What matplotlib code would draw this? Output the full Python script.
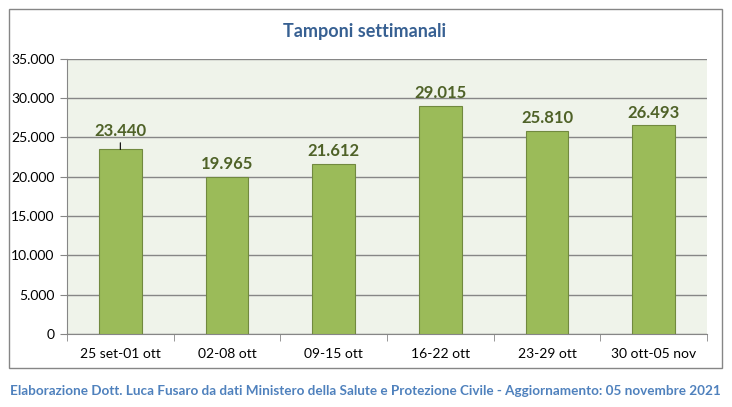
import matplotlib.pyplot as plt
from matplotlib.patches import Rectangle
from matplotlib.ticker import FuncFormatter, MultipleLocator

# Dati
settimane = ['25 set-01 ott', '02-08 ott', '09-15 ott', '16-22 ott', '23-29 ott', '30 ott-05 nov']
tamponi = [23440, 19965, 21612, 29015, 25810, 26493]

plt.rcParams['font.family'] = ['Lato', 'DejaVu Sans']

def fmt_it(v, pos=None):
    return f'{int(v):,}'.replace(',', '.')

fig = plt.figure(figsize=(7.32, 4.07), dpi=100)
W, H = 732, 407

# cornice esterna del grafico
fig.patches.append(Rectangle((9 / W, 1 - 368 / H), (722 - 9) / W, (368 - 9) / H,
                             transform=fig.transFigure, fill=False,
                             edgecolor='#868686', linewidth=1))

ax = fig.add_axes([67 / W, 1 - 334 / H, (707 - 67) / W, (334 - 58.5) / H])
ax.set_facecolor('#EFF3EA')

x = range(len(settimane))
ax.bar(x, tamponi, width=0.4, color='#9BBB59', edgecolor='#71893F', linewidth=0.8, zorder=3)

ax.set_xlim(-0.5, len(settimane) - 0.5)
ax.set_ylim(0, 35000)
ax.yaxis.set_major_locator(MultipleLocator(5000))
ax.yaxis.set_major_formatter(FuncFormatter(fmt_it))
ax.grid(axis='y', color='#868686', linewidth=1, zorder=0)
ax.set_xticks(list(x))
ax.set_xticklabels(settimane)
ax.set_xticks([i - 0.5 for i in range(len(settimane) + 1)], minor=True)
ax.tick_params(axis='x', which='major', length=0, pad=10, labelsize=10, colors='black')
ax.tick_params(axis='x', which='minor', length=5, color='#868686')
ax.tick_params(axis='y', length=5, color='#868686', labelsize=10, pad=4)

for s in ['top', 'right']:
    ax.spines[s].set_visible(False)
for s in ['left', 'bottom']:
    ax.spines[s].set_color('#868686')

for i, v in enumerate(tamponi):
    if i == 0:
        ax.annotate(fmt_it(v), xy=(i, v), xytext=(i, v + 2400), ha='center', va='center',
                    fontsize=12, fontweight='bold', color='#4F6228',
                    arrowprops=dict(arrowstyle='-', color='black', lw=0.8,
                                    shrinkA=1, shrinkB=0, relpos=(0.5, 0)))
    else:
        ax.text(i, v + 600, fmt_it(v), ha='center', va='bottom',
                fontsize=12, fontweight='bold', color='#4F6228')

fig.text(365 / W, 1 - 31 / H, 'Tamponi settimanali', ha='center', va='center',
         fontsize=13, fontweight='bold', color='#376092')
fig.text(365 / W, 1 - 391 / H,
         'Elaborazione Dott. Luca Fusaro da dati Ministero della Salute e Protezione Civile - Aggiornamento: 05 novembre 2021',
         ha='center', va='center', fontsize=9.75, fontweight='bold', color='#4F81BD')

fig.savefig('out.png', dpi=100)
